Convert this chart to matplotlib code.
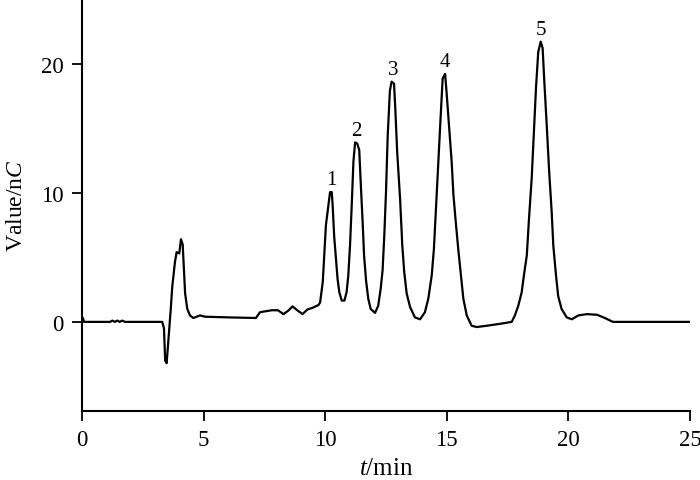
import matplotlib
matplotlib.use("Agg")
import matplotlib.pyplot as plt

# chromatogram trace (t in min, signal in nC)
time = [0.0, 0.04, 0.08, 1.15, 1.25, 1.35, 1.45, 1.55, 1.65, 1.77, 3.30,
        3.37, 3.42, 3.48, 3.59, 3.65, 3.71, 3.82, 3.89, 4.00, 4.07, 4.14,
        4.17, 4.24, 4.33, 4.44, 4.58, 4.85, 5.06, 6.0, 7.15, 7.32, 7.80,
        8.06, 8.28, 8.47, 8.66, 8.85, 9.07, 9.26, 9.49, 9.72, 9.79, 9.90,
        9.96, 10.03, 10.13, 10.20, 10.27, 10.31, 10.37, 10.44, 10.51, 10.58,
        10.68, 10.79, 10.88, 10.95, 11.02, 11.09, 11.16, 11.23, 11.32, 11.40,
        11.46, 11.53, 11.60, 11.68, 11.77, 11.87, 12.05, 12.18, 12.28, 12.36,
        12.43, 12.50, 12.57, 12.66, 12.73, 12.83, 12.88, 12.96, 13.08, 13.17,
        13.25, 13.35, 13.49, 13.69, 13.90, 14.10, 14.24, 14.38, 14.47, 14.56,
        14.65, 14.75, 14.83, 14.93, 14.99, 15.09, 15.20, 15.27, 15.37, 15.47,
        15.57, 15.68, 15.82, 16.02, 16.23, 16.64, 17.19, 17.67, 17.80, 17.94,
        18.08, 18.17, 18.29, 18.38, 18.49, 18.59, 18.67, 18.76, 18.86, 18.94,
        19.01, 19.11, 19.21, 19.31, 19.38, 19.49, 19.58, 19.72, 19.93, 20.14,
        20.41, 20.76, 21.18, 21.50, 21.83, 25.0]
signal = [0.0, 0.3, 0.0, 0.0, 0.1, 0.0, 0.1, 0.0, 0.1, 0.0, 0.0,
          -0.5, -3.0, -3.2, -0.5, 1.0, 2.7, 4.6, 5.4, 5.3, 6.4, 6.0,
          4.9, 2.2, 1.0, 0.5, 0.3, 0.5, 0.4, 0.35, 0.3, 0.75, 0.9,
          0.9, 0.6, 0.85, 1.2, 0.9, 0.6, 0.95, 1.1, 1.3, 1.5, 3.1,
          5.1, 7.5, 9.0, 10.05, 10.05, 8.9, 6.6, 5.0, 3.3, 2.3,
          1.65, 1.65, 2.3, 3.6, 5.9, 9.0, 12.4, 13.9, 13.8, 13.3,
          10.8, 8.1, 5.1, 3.2, 1.8, 1.0, 0.7, 1.25, 2.55, 4.0,
          6.7, 10.05, 14.4, 17.9, 18.6, 18.45, 16.6, 13.15, 9.5, 5.9,
          3.85, 2.2, 1.15, 0.35, 0.2, 0.75, 1.8, 3.6, 5.65, 9.0,
          12.4, 16.0, 18.85, 19.2, 17.8, 15.2, 12.4, 9.9, 7.7, 5.65,
          3.85, 1.8, 0.5, -0.3, -0.4, -0.3, -0.15, 0.0, 0.5, 1.25,
          2.3, 3.6, 5.15, 8.0, 11.1, 15.0, 18.2, 20.9, 21.7, 21.2,
          18.6, 15.2, 11.6, 8.6, 5.9, 3.6, 2.0, 1.0, 0.35, 0.2,
          0.5, 0.6, 0.55, 0.3, 0.0, 0.0]

peak_labels = ["1", "2", "3", "4", "5"]
peak_times = [10.24, 11.27, 12.78, 14.93, 18.86]
peak_heights = [10.05, 13.9, 18.6, 19.2, 21.7]

xticks = [0, 5, 10, 15, 20, 25]
yticks = [0, 10, 20]

plt.rcParams['font.family'] = ['Liberation Serif', 'DejaVu Serif']
plt.rcParams['mathtext.fontset'] = 'custom'
plt.rcParams['mathtext.it'] = 'Liberation Serif:italic'
plt.rcParams['mathtext.rm'] = 'Liberation Serif'

fig = plt.figure(figsize=(7.0, 4.81), dpi=100)
ax = fig.add_axes([82 / 700, 69 / 481, 608 / 700, 412 / 481])

ax.plot(time, signal, color='black', linewidth=1.6)

for lab, t, h in zip(peak_labels, peak_times, peak_heights):
    ax.annotate(lab, (t, h), xytext=(0, 2), textcoords='offset points',
                ha='center', va='bottom', fontsize=15)

ax.set_xlim(0, 25)
ax.set_ylim(-6.9, 25)
ax.set_xticks(xticks)
ax.set_yticks(yticks)

#only left and bottom axis lines
ax.spines['top'].set_visible(False)
ax.spines['right'].set_visible(False)
for s in ['left', 'bottom']:
    ax.spines[s].set_linewidth(1.5)
ax.tick_params(direction='out', length=7, width=1.3, labelsize=16.5, pad=6)

ax.set_xlabel('$t$/min', fontsize=18, labelpad=5)
ax.set_ylabel('Value/n$C$', fontsize=17, labelpad=10)

fig.savefig('out.png', dpi=100)
